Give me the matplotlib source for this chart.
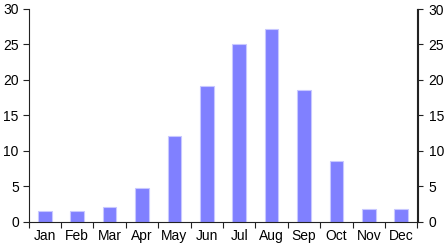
import matplotlib
matplotlib.use("Agg")
import matplotlib.pyplot as plt
import numpy as np

months = ["Jan", "Feb", "Mar", "Apr", "May", "Jun", "Jul", "Aug", "Sep", "Oct", "Nov", "Dec"]
values = [1.55, 1.55, 2.1, 4.8, 12.15, 19.1, 25.05, 27.2, 18.6, 8.6, 1.85, 1.75]
yticks = [0, 5, 10, 15, 20, 25, 30]

plt.rcParams['font.family'] = ['Liberation Sans', 'DejaVu Sans']
W, H = 447, 248
fig = plt.figure(figsize=(W / 100, H / 100), dpi=100)
x0, x1 = 28.5, 417.5
y0, y1 = 221.7, 9.0
ax = fig.add_axes([x0 / W, 1 - y0 / H, (x1 - x0) / W, (y0 - y1) / H])

x = np.arange(len(months))
ax.bar(x, values, width=0.42, color="#8080FF", edgecolor="#C8C8FF", linewidth=0.8, zorder=2)

ax.set_xlim(-0.5, len(months) - 0.5)
ax.set_ylim(0, 30)
ax.set_yticks(yticks)
ax.set_yticklabels([str(v) for v in yticks], fontsize=10)

ax.set_xticks(x)
ax.set_xticklabels(months, fontsize=10)
ax.tick_params(axis='x', which='major', length=0, pad=5)
ax.set_xticks(np.arange(-0.5, len(months), 1.0), minor=True)
ax.tick_params(axis='x', which='minor', length=4, width=0.8, color='#222222', direction='out')

for s in ['top']:
    ax.spines[s].set_visible(False)
for s in ['left', 'right', 'bottom']:
    ax.spines[s].set_color('#222222')
    ax.spines[s].set_linewidth(0.8)

ax.tick_params(axis='y', which='major', length=4, width=0.8, color='#222222', direction='out',
               labelleft=True, labelright=False, left=True, right=False, pad=3)

ax2 = ax.twinx()
ax2.set_ylim(0, 30)
ax2.set_yticks(yticks)
ax2.set_yticklabels([str(v) for v in yticks], fontsize=10)
ax2.tick_params(axis='y', length=4, width=0.8, color='#222222', direction='out', pad=4)
for s in ['top', 'left', 'bottom']:
    ax2.spines[s].set_visible(False)
ax2.spines['right'].set_color('#222222')
ax2.spines['right'].set_linewidth(0.8)

fig.savefig("out.png", dpi=100)
